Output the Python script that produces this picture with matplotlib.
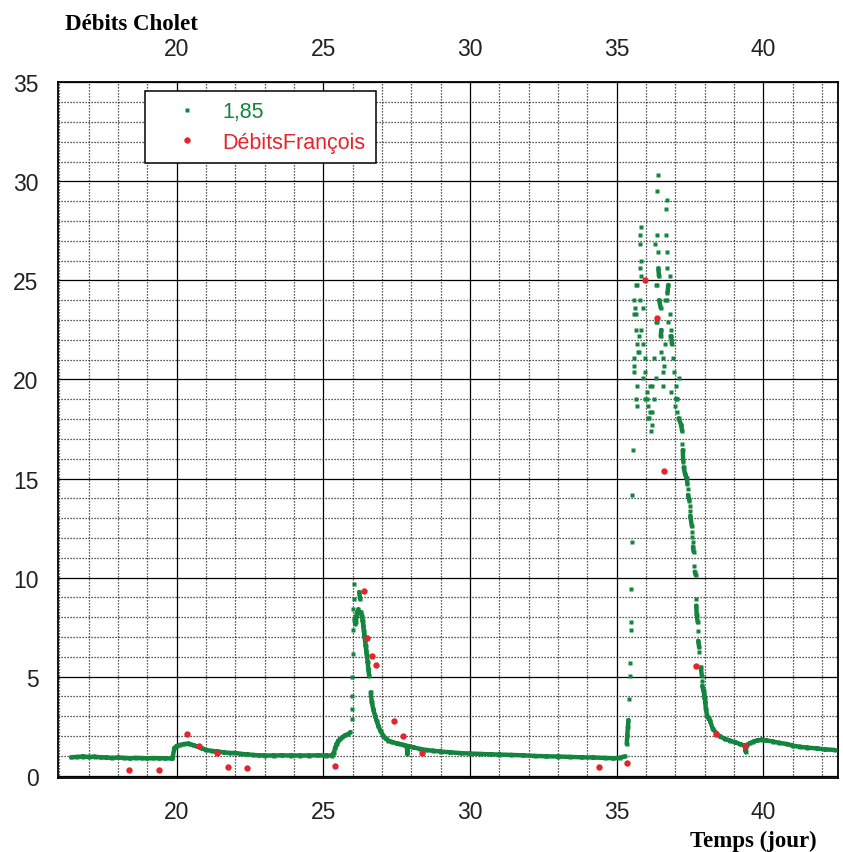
import numpy as np
import matplotlib
matplotlib.use("Agg")
import matplotlib.pyplot as plt
from matplotlib.ticker import MultipleLocator

# ---------------- data ----------------
# green series "1,85" (time in days, flow)
t_base1 = [16.40, 16.60, 16.80, 17.00, 17.20, 17.40, 17.60, 17.80, 18.00, 18.20,
           18.40, 18.60, 18.80, 19.00, 19.20, 19.40, 19.60, 19.85]
q_base1 = [0.93, 0.95, 0.97, 0.95, 0.96, 0.93, 0.92, 0.90, 0.92, 0.90,
           0.88, 0.90, 0.89, 0.88, 0.89, 0.88, 0.88, 0.87]

t_ev1 = [19.92, 20.00, 20.10, 20.25, 20.40, 20.55, 20.70, 20.85, 21.00, 21.20,
         21.40, 21.60, 21.80, 22.00, 22.20, 22.40, 22.60, 22.80, 23.00, 23.30,
         23.60, 23.90, 24.20, 24.50, 24.80, 25.10, 25.30]
q_ev1 = [1.40, 1.50, 1.55, 1.60, 1.62, 1.55, 1.48, 1.38, 1.30, 1.25,
         1.22, 1.18, 1.15, 1.15, 1.10, 1.08, 1.05, 1.03, 1.02, 1.02,
         1.03, 1.02, 1.02, 1.02, 1.03, 1.02, 1.02]

t_ev2 = [25.35, 25.40, 25.45, 25.50, 25.57, 25.65, 25.75, 25.85, 25.92, 25.96,
         25.97, 25.98, 25.99, 26.00, 26.01, 26.02, 26.03, 26.04, 26.06, 26.08,
         26.10, 26.12, 26.14, 26.17, 26.19, 26.22, 26.25, 26.28, 26.31, 26.34,
         26.36, 26.38, 26.40, 26.42, 26.44, 26.46, 26.48, 26.51, 26.53, 26.56,
         26.61, 26.65, 26.70, 26.76, 26.82, 26.87, 26.95, 27.04, 27.12, 27.21,
         27.35, 27.50, 27.61, 27.75, 27.84, 27.86, 27.88, 28.07, 28.30, 28.50,
         28.75, 29.00, 29.32, 29.70, 30.00, 30.34, 30.70, 31.00, 31.40, 31.80,
         32.20, 32.60, 33.00, 33.40, 33.80, 34.20, 34.60, 34.89, 35.10, 35.28]
q_ev2 = [1.15, 1.40, 1.60, 1.75, 1.85, 1.95, 2.05, 2.10, 2.20, 2.86,
         3.37, 4.04, 4.97, 6.14, 7.37, 8.41, 8.92, 9.68, 7.90, 7.66,
         7.76, 8.00, 8.20, 8.26, 8.40, 9.27, 8.92, 8.26, 8.08, 7.80,
         7.57, 7.30, 7.05, 6.80, 6.56, 6.30, 6.10, 5.72, 5.39, 5.05,
         4.21, 3.70, 3.35, 3.03, 2.75, 2.52, 2.25, 2.02, 1.88, 1.77,
         1.70, 1.63, 1.60, 1.55, 1.50, 1.12, 1.50, 1.43, 1.35, 1.30,
         1.26, 1.22, 1.18, 1.14, 1.12, 1.10, 1.08, 1.07, 1.05, 1.03,
         1.00, 0.98, 0.97, 0.95, 0.93, 0.92, 0.90, 0.88, 0.90, 0.98]

t_rise3 = [35.34, 35.36, 35.38, 35.40, 35.43, 35.45, 35.47, 35.48, 35.49, 35.50,
           35.52, 35.53, 35.54]
q_rise3 = [1.60, 2.02, 2.44, 2.81, 3.87, 5.05, 5.69, 7.37, 7.74, 9.42,
           11.81, 14.17, 16.44]

t_cloud = [35.58, 35.58, 35.58, 35.60, 35.60, 35.62, 35.65, 35.66, 35.66, 35.66,
           35.68, 35.70, 35.70, 35.70, 35.72, 35.76, 35.77, 35.79, 35.79, 35.79,
           35.79, 35.82, 35.84, 35.84, 35.84, 35.89, 35.89, 35.91, 35.96, 35.97,
           35.97, 36.02, 36.02, 36.05, 36.08, 36.11, 36.13, 36.13, 36.17, 36.19,
           36.19, 36.22, 36.27, 36.28, 36.32, 36.33, 36.33, 36.34, 36.36, 36.36,
           36.38, 36.38, 36.40, 36.42, 36.42, 36.44, 36.45, 36.50, 36.50, 36.52,
           36.52, 36.57, 36.59, 36.59, 36.62, 36.65, 36.65, 36.67, 36.67, 36.70,
           36.70, 36.73, 36.73, 36.73, 36.76, 36.76, 36.80, 36.81, 36.82, 36.84,
           36.85, 36.86, 36.88, 36.93, 36.94, 37.00, 37.02, 37.02, 37.07, 37.07,
           37.11, 37.11, 37.20, 37.23]
q_cloud = [24.00, 21.08, 20.36, 23.29, 20.70, 23.61, 24.77, 23.29, 22.50, 19.02,
           24.77, 21.79, 19.66, 18.68, 21.40, 22.18, 21.40, 27.29, 26.84, 25.61,
           24.00, 27.68, 26.00, 25.21, 22.50, 23.61, 21.79, 20.06, 19.02, 21.08,
           20.36, 19.35, 19.02, 18.04, 18.68, 18.04, 19.66, 18.37, 17.40, 19.66,
           18.37, 17.70, 21.08, 19.02, 26.84, 24.77, 22.89, 20.06, 29.50, 27.29,
           24.77, 22.89, 26.45, 30.34, 25.61, 25.21, 24.00, 23.61, 22.18, 22.50,
           21.40, 20.36, 21.08, 19.66, 20.70, 24.00, 21.79, 28.59, 27.29, 25.61,
           24.00, 29.05, 26.45, 24.37, 24.77, 22.89, 22.18, 25.21, 23.29, 22.50,
           19.35, 22.18, 21.79, 21.08, 20.36, 18.68, 19.66, 19.02, 19.02, 18.37,
           20.06, 18.04, 17.70, 17.40]

t_rec3 = [37.24, 37.25, 37.27, 37.28, 37.33, 37.39, 37.41, 37.42, 37.43, 37.48,
          37.49, 37.50, 37.51, 37.56, 37.57, 37.58, 37.59, 37.60, 37.62, 37.65,
          37.66, 37.69, 37.70, 37.71, 37.73, 37.76, 37.77, 37.78, 37.81, 37.82,
          37.87, 37.90, 37.91, 37.92, 37.96, 37.98, 38.00, 38.02, 38.04, 38.08,
          38.13, 38.18, 38.28, 38.40, 38.52, 38.70, 38.86, 39.05, 39.20, 39.37,
          39.40, 39.43, 39.55, 39.66, 39.80, 39.94, 40.10, 40.34, 40.55, 40.80,
          41.00, 41.25, 41.50, 41.82, 42.10, 42.44]
q_rec3 = [16.74, 16.44, 15.85, 15.57, 15.23, 15.01, 14.73, 14.47, 14.17, 13.88,
          13.63, 13.36, 13.12, 12.59, 12.32, 12.06, 11.81, 11.56, 11.31, 10.60,
          10.30, 10.13, 8.92, 8.59, 8.11, 7.74, 7.32, 6.81, 6.48, 6.23,
          5.47, 5.05, 4.80, 4.54, 4.30, 4.12, 3.90, 3.70, 3.37, 3.03,
          2.90, 2.78, 2.35, 2.15, 1.98, 1.85, 1.77, 1.68, 1.60, 1.51,
          1.21, 1.55, 1.65, 1.72, 1.78, 1.82, 1.78, 1.72, 1.66, 1.60,
          1.52, 1.46, 1.42, 1.38, 1.33, 1.30]

# red series "DébitsFrançois"
t_red = [18.38, 19.40, 20.36, 20.76, 21.36, 21.76, 22.39, 25.38, 26.40, 26.48,
         26.65, 26.79, 27.41, 27.70, 28.36, 34.40, 35.36, 35.98, 36.36, 36.62,
         37.71, 38.37, 39.38]
q_red = [0.29, 0.29, 2.10, 1.51, 1.15, 0.42, 0.37, 0.50, 9.31, 6.95,
         6.06, 5.60, 2.75, 1.99, 1.15, 0.42, 0.63, 25.04, 23.09, 15.38,
         5.55, 2.12, 1.51]

x_ticks = [20, 25, 30, 35, 40]
y_ticks = [0, 5, 10, 15, 20, 25, 30, 35]

GREEN = '#14853f'
RED = '#e6242b'

# ---------------- figure ----------------
W, H = 843, 853
fig = plt.figure(figsize=(W / 100, H / 100), dpi=100)
ax = fig.add_axes([58 / W, (H - 778.7) / H, 780 / W, (778.7 - 83.3) / H])

t_g = np.array(t_base1 + t_ev1 + t_ev2 + t_rise3 + t_cloud + t_rec3)
q_g = np.array(q_base1 + q_ev1 + q_ev2 + q_rise3 + q_cloud + q_rec3)
order = np.argsort(t_g, kind='stable')
t_g, q_g = t_g[order], q_g[order]

# continuous band where consecutive samples are close
dt = np.diff(t_g)
dq = np.abs(np.diff(q_g))
link = (dt >= 0.015) & (dt < 0.6) & (dq < 0.6)
segs_x, segs_y = [], []
for i in np.nonzero(link)[0]:
    segs_x += [t_g[i], t_g[i + 1], np.nan]
    segs_y += [q_g[i], q_g[i + 1], np.nan]
ax.plot(segs_x, segs_y, '-', color=GREEN, lw=3.2, solid_capstyle='round', zorder=3)
ax.plot(t_g, q_g, 's', color=GREEN, ms=3.0, mec='none', zorder=4, label='1,85')
ax.plot(t_red, q_red, 'o', color=RED, ms=4.6, mec='none', zorder=5, label='DébitsFrançois')

ax.set_xlim(15.95, 42.545)
ax.set_ylim(-0.1, 35)
ax.xaxis.set_minor_locator(MultipleLocator(1))
ax.yaxis.set_minor_locator(MultipleLocator(1))
ax.set_xticks(x_ticks)
ax.set_yticks(y_ticks)
ax.set_xticklabels([str(v) for v in x_ticks])
ax.set_yticklabels([str(v) for v in y_ticks])

ax.grid(which='major', color='black', lw=0.9, ls='-', zorder=1)
ax.grid(which='minor', color='#222222', lw=0.9, ls=(0, (1, 1.4)), zorder=1)
ax.set_axisbelow(True)

tick_font = dict(family=['Liberation Sans', 'DejaVu Sans'], size=16.5)
ax.tick_params(which='both', length=0)
ax.tick_params(axis='x', which='major', top=True, labeltop=True, bottom=True,
               labelbottom=True, pad=16)
ax.tick_params(axis='y', which='major', pad=14)
for lab in ax.get_xticklabels() + ax.get_yticklabels():
    lab.set_fontfamily(tick_font['family'])
    lab.set_fontsize(tick_font['size'])
    lab.set_color('#222222')

for s in ax.spines.values():
    s.set_linewidth(1.3)
    s.set_color('black')

leg = ax.legend(loc='upper left', bbox_to_anchor=((145 - 58) / 780, (778.7 - 91.7) / 695.4),
                borderaxespad=0, frameon=True, fancybox=False, framealpha=1,
                edgecolor='black', prop=dict(family=['Liberation Sans', 'DejaVu Sans'], size=15.5),
                borderpad=0.5, handlelength=2.9, handletextpad=0.2, labelspacing=0.42,
                markerscale=1.0)
leg.get_frame().set_linewidth(1.1)
for txt, col in zip(leg.get_texts(), [GREEN, RED]):
    txt.set_color(col)

serif = ['Liberation Serif', 'DejaVu Serif']
fig.text(65 / W, 1 - 25 / H, 'Débits Cholet', family=serif, weight='bold',
         size=16.5, ha='left', va='center')
fig.text(690 / W, 1 - 841 / H, 'Temps (jour)', family=serif, weight='bold',
         size=16.5, ha='left', va='center')

fig.savefig('out.png', dpi=100)
